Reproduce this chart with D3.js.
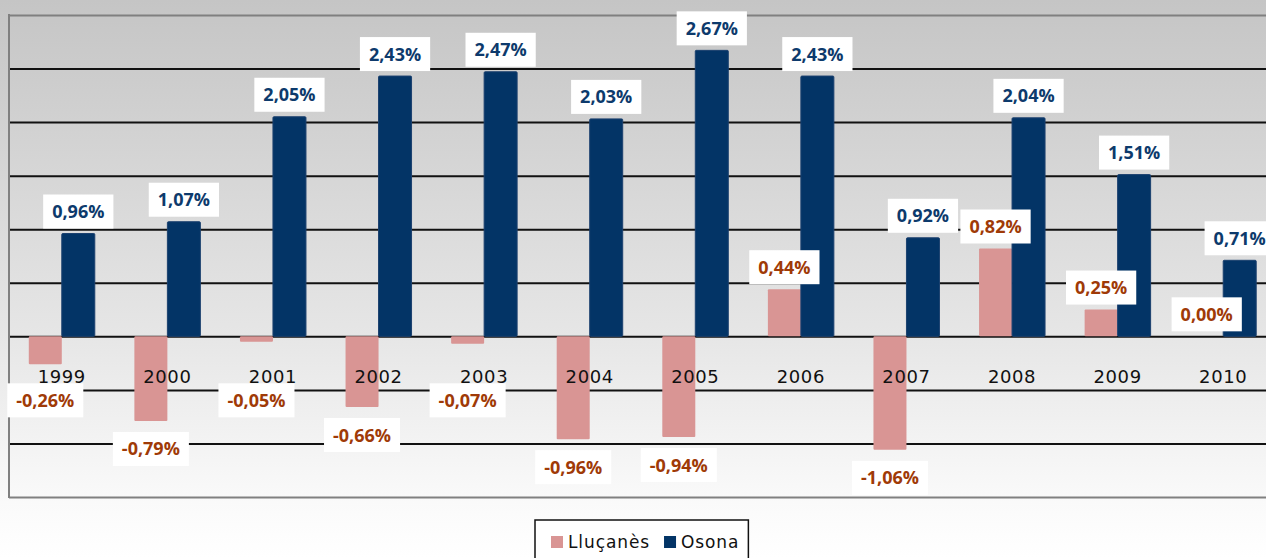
<!DOCTYPE html>
<html>
<head>
<meta charset="utf-8">
<script src="https://cdn.jsdelivr.net/npm/d3@7"></script>
<style>
  body { margin: 0; background: #fff; }
  svg { display: block; }
</style>
</head>
<body>
<div id="chart"></div>
<script>
// Data
const years = ["1999", "2000", "2001", "2002", "2003", "2004", "2005", "2006", "2007", "2008", "2009", "2010"];
const llucanes = [-0.26, -0.79, -0.05, -0.66, -0.07, -0.96, -0.94, 0.44, -1.06, 0.82, 0.25, 0.00];
const osona = [0.96, 1.07, 2.05, 2.43, 2.47, 2.03, 2.67, 2.43, 0.92, 2.04, 1.51, 0.71];
const seriesNames = ["Lluçanès", "Osona"];
const gridValues = [-1.5, -1, -0.5, 0, 0.5, 1, 1.5, 2, 2.5, 3];

const W = 1266, H = 558;
const plot = { left: 9, right: 1276, top: 15, bottom: 497 };

const colors = { "Lluçanès": "#d99594", "Osona": "#033466" };
const labelColors = { "Lluçanès": "#9f3a07", "Osona": "#0d3a6c" };

const locale = d3.formatLocale({ decimal: ",", thousands: ".", grouping: [3], currency: ["", "€"], minus: "-" });
const fmt = v => locale.format(".2f")(v) + "%";

const svg = d3.select("#chart").append("svg")
  .attr("width", W)
  .attr("height", H);

// background gradient
const defs = svg.append("defs");
const grad = defs.append("linearGradient")
  .attr("id", "bg")
  .attr("x1", 0).attr("y1", 0).attr("x2", 0).attr("y2", 1);
grad.append("stop").attr("offset", "0%").attr("stop-color", "#c5c5c5");
grad.append("stop").attr("offset", "60%").attr("stop-color", "#e6e6e6");
grad.append("stop").attr("offset", "90%").attr("stop-color", "#fafafa");
grad.append("stop").attr("offset", "100%").attr("stop-color", "#ffffff");

svg.append("rect")
  .attr("width", W).attr("height", H)
  .attr("fill", "url(#bg)");

// scales
const x0 = d3.scaleBand()
  .domain(years)
  .range([plot.left, plot.right])
  .paddingInner(0.375)
  .paddingOuter(0.1875);

const x1 = d3.scaleBand()
  .domain(seriesNames)
  .range([0, x0.bandwidth()])
  .padding(0);

const y = d3.scaleLinear()
  .domain([-1.5, 3])
  .range([plot.bottom, plot.top]);

// gridlines
const grid = svg.append("g")
  .attr("transform", `translate(${plot.left},0)`)
  .call(d3.axisLeft(y).tickValues(gridValues).tickSize(-(plot.right - plot.left)).tickFormat(""));
grid.select(".domain").remove();
grid.selectAll(".tick line")
  .attr("stroke", d => (d === 3 || d === -1.5) ? "#808080" : "#111")
  .attr("stroke-width", 2);

// left border
svg.append("line")
  .attr("x1", plot.left).attr("x2", plot.left)
  .attr("y1", plot.top - 1).attr("y2", plot.bottom + 1)
  .attr("stroke", "#808080")
  .attr("stroke-width", 2);

// bars
const rows = years.map((yr, i) => ({ year: yr, values: [
  { name: "Lluçanès", value: llucanes[i] },
  { name: "Osona", value: osona[i] }
]}));

const groups = svg.append("g").selectAll("g")
  .data(rows)
  .join("g")
  .attr("transform", d => `translate(${x0(d.year)},0)`);

groups.selectAll("rect")
  .data(d => d.values)
  .join("rect")
  .attr("x", d => x1(d.name))
  .attr("width", x1.bandwidth())
  .attr("y", d => y(Math.max(0, d.value)))
  .attr("height", d => Math.abs(y(d.value) - y(0)))
  .attr("rx", 1)
  .attr("fill", d => colors[d.name])
  .attr("stroke", d => d.name === "Osona" ? "#1c416f" : "none")
  .attr("stroke-width", 1);

// category labels
const xAxis = svg.append("g")
  .attr("transform", `translate(0,${y(0)})`)
  .call(d3.axisBottom(x0).tickSize(0).tickPadding(34));
xAxis.select(".domain").remove();
xAxis.selectAll("text")
  .attr("font-family", "DejaVu Sans, Verdana, sans-serif")
  .attr("font-size", 18)
  .attr("letter-spacing", 0.6)
  .attr("fill", "#111");

// data labels
const labels = svg.append("g").selectAll("g")
  .data(rows.flatMap(r => r.values.map(v => ({ year: r.year, ...v }))))
  .join("g")
  .attr("transform", d => {
    const cx = x0(d.year) + x1(d.name) + x1.bandwidth() / 2;
    let cy;
    if (d.value >= 0) cy = y(d.value) - 22;
    else cy = Math.max(y(d.value) + 28, y(0) + 64);
    return `translate(${cx},${cy})`;
  });

labels.append("text")
  .attr("text-anchor", "middle")
  .attr("dy", "0.36em")
  .attr("font-family", "Open Sans, Noto Sans, sans-serif")
  .attr("font-weight", "bold")
  .attr("font-size", 18)
  .attr("fill", d => labelColors[d.name])
  .text(d => fmt(d.value));

labels.each(function () {
  const g = d3.select(this);
  const w = g.select("text").node().getComputedTextLength();
  g.insert("rect", "text")
    .attr("x", -w / 2 - 9)
    .attr("y", -17)
    .attr("width", w + 18)
    .attr("height", 34)
    .attr("fill", "#fff");
});

// legend
const legend = svg.append("g");
const legendBox = legend.append("rect")
  .attr("x", 535).attr("y", 520)
  .attr("height", 42)
  .attr("fill", "#fff")
  .attr("stroke", "#111")
  .attr("stroke-width", 1.5);

let lx = 551;
seriesNames.forEach(name => {
  legend.append("rect")
    .attr("x", lx).attr("y", 536)
    .attr("width", 12).attr("height", 12)
    .attr("fill", colors[name]);
  const t = legend.append("text")
    .attr("x", lx + 17).attr("y", 548)
    .attr("font-family", "DejaVu Sans, Verdana, sans-serif")
    .attr("font-size", 17)
    .attr("letter-spacing", 0.9)
    .attr("fill", "#111")
    .text(name);
  lx += 17 + t.node().getComputedTextLength() + 14;
});
legendBox.attr("width", lx - 535 - 5);
</script>
</body>
</html>
